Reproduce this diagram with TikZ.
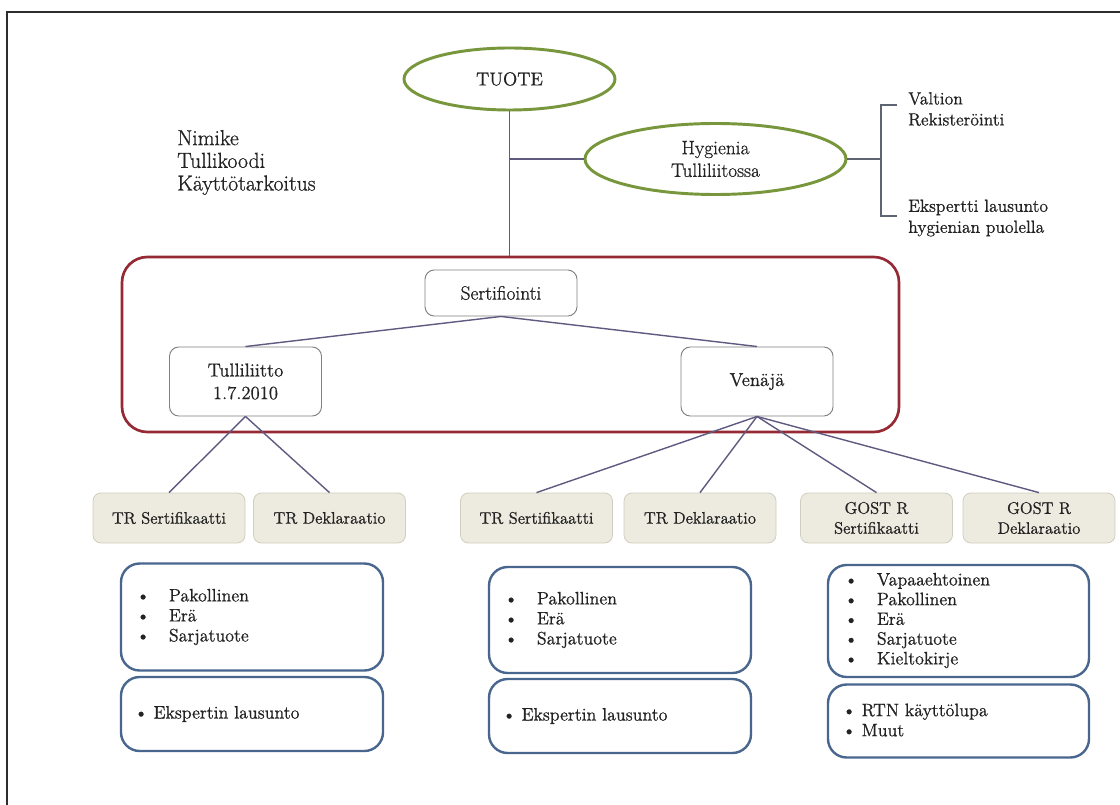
\documentclass[tikz,border=0pt]{standalone}
\usepackage{fontspec}
\setmainfont{Latin Modern Roman}[FakeBold=0.8]
\usetikzlibrary{shapes.geometric}
\definecolor{grn}{RGB}{120,150,60}
\definecolor{dred}{RGB}{150,42,52}
\definecolor{blu}{RGB}{72,102,142}
\definecolor{connc}{RGB}{95,90,128}
\definecolor{brk}{RGB}{95,100,115}
\definecolor{beige}{RGB}{237,235,223}
\definecolor{beigeb}{RGB}{208,206,190}
\definecolor{grayb}{RGB}{130,130,130}
\definecolor{framec}{RGB}{45,45,45}
\definecolor{txtc}{RGB}{35,35,35}
\newcommand\fs[2]{\fontsize{#1}{#2}\selectfont}
\newcommand\bulA{\makebox[24.5pt][l]{\textbullet}}
\newcommand\bulB{\makebox[14.5pt][l]{\textbullet}}
\def\pu{0.75pt}
\begin{document}
\begin{tikzpicture}[x=0.75pt,y=-0.75pt,
  every node/.style={text=txtc},
  oval/.style={ellipse, draw=grn, line width=2.2pt, inner sep=0pt, align=center, fill=white},
  redbox/.style={draw=dred, line width=2pt, rounded corners=19pt, inner sep=0pt},
  wbox/.style={draw=grayb, rounded corners=7pt, line width=0.7pt, fill=white, align=center, inner sep=0pt, minimum width=152*\pu},
  bbox/.style={draw=beigeb, fill=beige, rounded corners=6pt, line width=0.6pt, align=center, inner sep=0pt, minimum width=152*\pu, minimum height=50*\pu, font=\fs{12.5}{15}},
  lbox/.style={draw=blu, rounded corners=14pt, line width=1.8pt, inner sep=0pt},
  conn/.style={draw=connc, line width=1.05pt},
  txt/.style={inner sep=0pt, align=left, anchor=west}
]
\useasboundingbox (0,0) rectangle (1120,805);
\fill[white] (0,0) rectangle (1120,805);
\draw[framec, line width=1.6pt] (7,806) -- (7,12) -- (1121,12);

% top
\node[oval, minimum width=211*\pu, minimum height=62*\pu, font=\fs{14}{17}] (tuote) at (509.5,79) {TUOTE};
\node[oval, minimum width=261*\pu, minimum height=71*\pu, font=\fs{14.5}{17}] (hyg) at (715.5,159) {Hygienia\\Tulliliitossa};
\node[txt, font=\fs{16.3}{17}] (nim) at (177,162.5) {Nimike\\Tullikoodi\\Käyttötarkoitus};
\node[txt, font=\fs{13.2}{15.75}] (valt) at (908,109) {Valtion\\Rekisteröinti};
\node[txt, font=\fs{13.2}{15.75}] (eksp) at (908,218) {Ekspertti lausunto\\hygienian puolella};

\coordinate (brm) at (881,159);
\coordinate (brt) at (897,105);
\coordinate (brb) at (897,216);

% certification block
\node[redbox, minimum width=777*\pu, minimum height=175*\pu] (cert) at (510.5,344.5) {};
\node[wbox, minimum height=46*\pu, font=\fs{14.5}{17}] (sert) at (501,293) {Sertifiointi};
\node[wbox, minimum height=69*\pu, font=\fs{14}{17}] (tl) at (245.5,381.5) {Tulliliitto\\1.7.2010};
\node[wbox, minimum height=69*\pu, font=\fs{14}{17}] (ven) at (757,381.5) {Venäjä};

% beige boxes
\node[bbox] (trs1) at (169,518) {TR Sertifikaatti};
\node[bbox] (trd1) at (329.5,518) {TR Deklaraatio};
\node[bbox] (trs2) at (536.5,518) {TR Sertifikaatti};
\node[bbox] (trd2) at (700,518) {TR Deklaraatio};
\node[bbox] (gs) at (876.5,518) {GOST R\\Sertifikaatti};
\node[bbox] (gd) at (1039,518) {GOST R\\Deklaraatio};

% connectors
\draw[conn] (tuote.south) -- (tuote.south |- cert.north);
\draw[conn] (tuote.south |- hyg.west) -- (hyg.west);
\draw[draw=brk, line width=1pt] (hyg.east) -- (brm);
\draw[draw=brk, line width=1pt] (brt) -- (brt -| brm) -- (brb -| brm) -- (brb);
\draw[conn] (sert.south) -- (tl.north);
\draw[conn] (sert.south) -- (ven.north);
\draw[conn] (tl.south) -- (trs1.north);
\draw[conn] (tl.south) -- (trd1.north);
\draw[conn] (ven.south) -- (trs2.north);
\draw[conn] (ven.south) -- (trd2.north);
\draw[conn] (ven.south) -- (gs.north);
\draw[conn] (ven.south) -- (gd.north);

% blue boxes
\node[lbox, minimum width=262*\pu, minimum height=107*\pu] (b1u) at (252,617) {};
\node[lbox, minimum width=262*\pu, minimum height=74*\pu] (b1l) at (252,714) {};
\node[lbox, minimum width=262*\pu, minimum height=106*\pu] (b2u) at (620,620) {};
\node[lbox, minimum width=262*\pu, minimum height=74*\pu] (b2l) at (620,716) {};
\node[lbox, minimum width=261*\pu, minimum height=112*\pu] (b3u) at (958.5,621) {};
\node[lbox, minimum width=261*\pu, minimum height=73*\pu] (b3l) at (958.5,721) {};

\node[txt, font=\fs{13.5}{15}] (t1u) at (136,617) {\bulA Pakollinen\\\bulA Erä\\\bulA Sarjatuote};
\node[txt, font=\fs{13.5}{15}] (t1l) at (134,714) {\bulB Ekspertin lausunto};
\node[txt, font=\fs{13.5}{15}] (t2u) at (504,620) {\bulA Pakollinen\\\bulA Erä\\\bulA Sarjatuote};
\node[txt, font=\fs{13.5}{15}] (t2l) at (502,716) {\bulB Ekspertin lausunto};
\node[txt, font=\fs{13.5}{14.8}] (t3u) at (844,620.5) {\bulA Vapaaehtoinen\\\bulA Pakollinen\\\bulA Erä\\\bulA Sarjatuote\\\bulA Kieltokirje};
\node[txt, font=\fs{13.5}{15}] (t3l) at (842,720) {\bulB RTN käyttölupa\\\bulB Muut};
\end{tikzpicture}
\end{document}
